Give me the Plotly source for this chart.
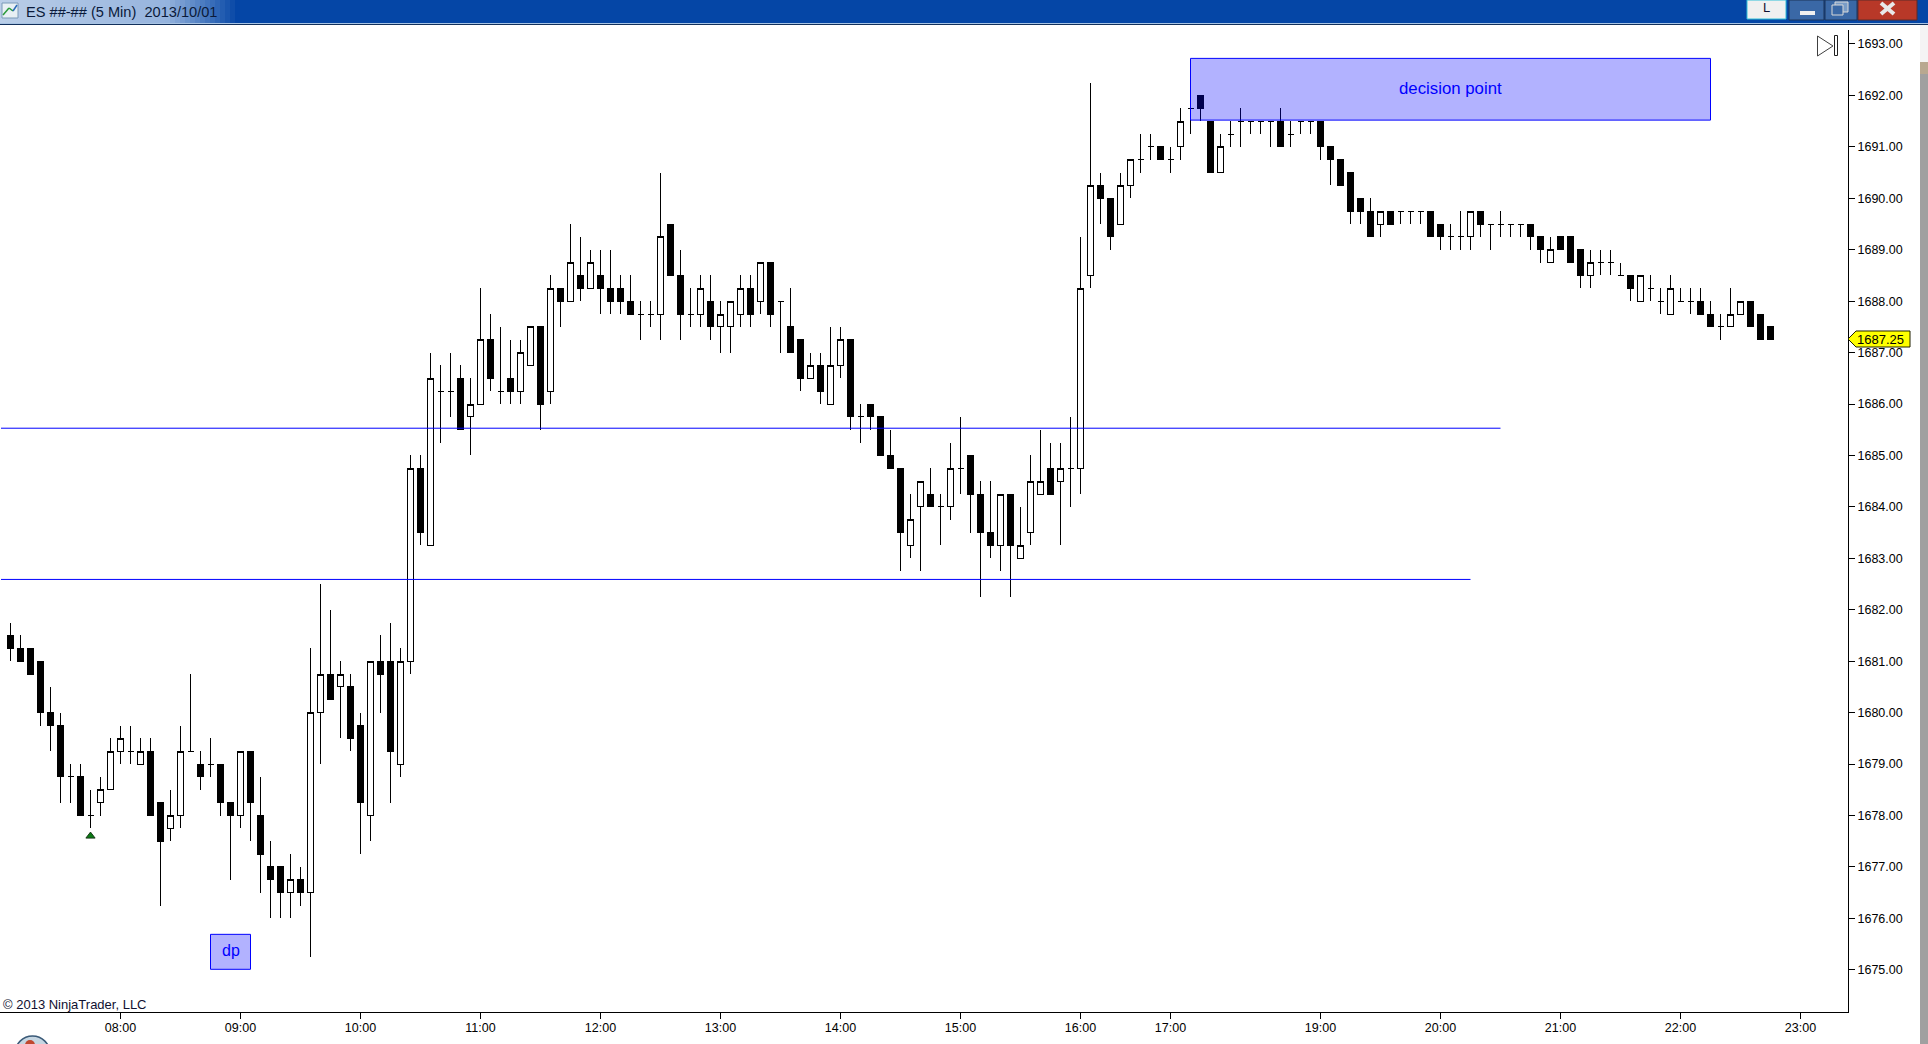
import plotly.graph_objs as go

# ES 5 min bars
opens = [1681.5,1681.25,1681.25,1681,1680,1679.75,1678.75,1678.75,1678,1678.25,
    1678.5,1679.25,1679.25,1679,1679.25,1678.25,1677.75,1678,1679.25,1679,
    1679,1679,1678.25,1678,1679.25,1678,1677,1677,1676.5,1676.75,
    1676.5,1680,1680.75,1680.5,1680.5,1679.75,1678,1681,1681,1679,
    1681,1684.75,1683.25,1686.25,1686.25,1686.5,1685.75,1686,1687.25,1686.25,
    1686.5,1686.25,1686.75,1687.5,1686.25,1688.25,1688,1688.5,1688.25,1688.5,
    1688.25,1688.25,1688,1687.75,1687.75,1687.75,1689.5,1688.5,1687.75,1687.75,
    1688,1687.5,1687.5,1687.75,1688.25,1688,1688.75,1688,1687.5,1687.25,
    1686.5,1686.75,1686,1686.75,1687.25,1685.75,1686,1685.75,1685,1684.75,
    1683.25,1684,1684.25,1684,1684,1684.75,1685,1684.25,1683.5,1683.25,
    1684.25,1683,1683.5,1684.25,1684.75,1684.5,1684.75,1684.75,1688.5,1690.25,
    1690,1689.5,1690.25,1690.75,1691,1691,1690.75,1691,1691.75,1692,
    1691.5,1690.5,1691.25,1691.5,1691.5,1691.5,1691.5,1691.5,1691.25,1691.5,
    1691.5,1691.5,1691,1690.75,1690.5,1690,1689.75,1689.5,1689.75,1689.75,
    1689.75,1689.75,1689.75,1689.5,1689.25,1689.25,1689.25,1689.75,1689.5,1689.5,
    1689.5,1689.5,1689.5,1689.25,1688.75,1689.25,1689.25,1689,1688.5,1688.75,
    1688.75,1688.5,1688.5,1688,1688.25,1688,1687.75,1688,1688,1688,
    1687.75,1687.5,1687.5,1687.75,1688,1687.75,1687.5]

highs = [1681.75,1681.5,1681.25,1681,1680.5,1680,1679,1679,1678.5,1678.75,
    1679.5,1679.75,1679.75,1679.5,1679.5,1678.25,1678.5,1679.75,1680.75,1679.25,
    1679.5,1679,1678.25,1679.25,1679.25,1678.75,1677.5,1677,1677.25,1677,
    1681.25,1682.5,1682,1681,1680.75,1680,1681,1681.5,1681.75,1681.25,
    1685,1685,1687,1686.75,1687,1686.75,1686.5,1688.25,1687.75,1687.5,
    1687.25,1687.25,1687.5,1687.5,1688.5,1688.25,1689.5,1689.25,1689,1689,
    1689,1688.5,1688.5,1688,1688,1690.5,1689.5,1689,1688.25,1688.5,
    1688.5,1688,1688,1688.5,1688.5,1688.75,1688.75,1688,1688.25,1687.25,
    1687,1687,1687.5,1687.5,1687.25,1686,1686,1685.75,1685.5,1684.75,
    1684.25,1684.5,1684.75,1684.25,1685.25,1685.75,1685,1684.5,1684.5,1684.25,
    1684.25,1684,1685,1685.5,1685.25,1685.25,1685.75,1689.25,1692.25,1690.5,
    1690,1690.5,1690.75,1691.25,1691.25,1691,1691,1691.75,1691.75,1692,
    1691.5,1691.25,1691.5,1691.75,1691.5,1691.5,1691.5,1691.75,1691.5,1691.5,
    1691.5,1691.5,1691,1690.75,1690.5,1690,1690,1689.75,1689.75,1689.75,
    1689.75,1689.75,1689.75,1689.5,1689.5,1689.75,1689.75,1689.75,1689.5,1689.75,
    1689.5,1689.5,1689.5,1689.25,1689.25,1689.25,1689.25,1689,1689,1689,
    1689,1688.75,1688.5,1688.5,1688.5,1688.25,1688.5,1688.25,1688.25,1688.25,
    1688,1687.75,1688.25,1688,1688,1687.75,1687.5]

lows = [1681,1681,1680.75,1679.75,1679.25,1678.25,1678.25,1678,1677.75,1678,
    1678.5,1679,1679,1679,1678,1676.25,1677.5,1677.75,1679.25,1678.5,
    1678.75,1678,1676.75,1677.75,1677.5,1676.5,1676,1676,1676,1676.25,
    1675.25,1679,1680.25,1679.5,1679.25,1677.25,1677.5,1680,1678.25,1678.75,
    1680.75,1683.25,1683.25,1685.25,1685.75,1685.5,1685,1686,1686.25,1686,
    1686,1686,1686.75,1685.5,1686,1687.5,1688,1688,1688.25,1687.75,
    1687.75,1687.75,1687.75,1687.25,1687.5,1687.25,1688.5,1687.25,1687.5,1687.5,
    1687.25,1687,1687,1687.5,1687.5,1687.75,1687.5,1687,1687,1686.25,
    1686.5,1686,1686,1686.5,1685.5,1685.25,1685.5,1685,1684.75,1682.75,
    1683,1682.75,1684,1683.25,1683.75,1684.25,1683.5,1682.25,1683,1682.75,
    1682.25,1683,1683.25,1684.25,1684.25,1683.25,1684,1684.25,1688.25,1689.5,
    1689,1689.5,1690,1690.5,1690.75,1690.75,1690.5,1690.75,1691.25,1691.5,
    1690.5,1690.5,1691,1691,1691.25,1691.25,1691,1691,1691,1691.25,
    1691.25,1690.75,1690.25,1690.25,1689.5,1689.5,1689.25,1689.25,1689.5,1689.5,
    1689.5,1689.5,1689.25,1689,1689,1689,1689,1689.25,1689,1689.25,
    1689.25,1689.25,1689,1688.75,1688.75,1689,1688.75,1688.25,1688.25,1688.5,
    1688.5,1688.5,1688,1688,1688,1687.75,1687.75,1688,1687.75,1687.75,
    1687.5,1687.25,1687.5,1687.75,1687.5,1687.25,1687.25]

closes = [1681.25,1681,1680.75,1680,1679.75,1678.75,1678.75,1678,1678,1678.5,
    1679.25,1679.5,1679.25,1679.25,1678,1677.5,1678,1679.25,1679.25,1678.75,
    1679,1678.25,1678,1679.25,1678.25,1677.25,1676.75,1676.5,1676.75,1676.5,
    1680,1680.75,1680.25,1680.75,1679.5,1678.25,1681,1680.75,1679.25,1681,
    1684.75,1683.5,1686.5,1686.25,1686.25,1685.5,1686,1687.25,1686.5,1686.25,
    1686.25,1687,1687.5,1686,1688.25,1688,1688.75,1688.25,1688.75,1688.25,
    1688,1688,1687.75,1687.75,1687.75,1689.25,1688.5,1687.75,1687.75,1688.25,
    1687.5,1687.75,1688,1688.25,1687.75,1688.75,1687.75,1688,1687,1686.5,
    1686.75,1686.25,1686.75,1687.25,1685.75,1685.75,1685.75,1685,1684.75,1683.5,
    1683.75,1684.5,1684,1684,1684.75,1684.75,1684.25,1683.5,1683.25,1684.25,
    1683.25,1683.25,1684.5,1684.5,1684.25,1684.75,1684.75,1688.25,1690.25,1690,
    1689.25,1690.25,1690.75,1690.75,1691,1690.75,1690.75,1691.5,1691.75,1691.75,
    1690.5,1691,1691.25,1691.5,1691.5,1691.5,1691.5,1691,1691.25,1691.5,
    1691.5,1691,1690.75,1690.25,1689.75,1689.75,1689.25,1689.75,1689.5,1689.75,
    1689.75,1689.75,1689.25,1689.25,1689.25,1689.25,1689.75,1689.5,1689.5,1689.5,
    1689.5,1689.5,1689.25,1689,1689,1689,1688.75,1688.5,1688.75,1688.75,
    1688.75,1688.5,1688.25,1688.5,1688.25,1688,1688.25,1688,1688,1687.75,
    1687.5,1687.5,1687.75,1688,1687.5,1687.25,1687.25]

bars = list(range(len(closes)))

# the session gaps make the hours uneven, so ticks go by bar number
tick_bars = [11, 23, 35, 47, 59, 71, 83, 95, 107, 116, 131, 143, 155, 167, 179]
tick_times = ["08:00", "09:00", "10:00", "11:00", "12:00", "13:00", "14:00", "15:00",
              "16:00", "17:00", "19:00", "20:00", "21:00", "22:00", "23:00"]
price_ticks = list(range(1675, 1694))

last_price = 1687.25
level_prices = [1685.53, 1682.59]
level_ends = [149, 146]
arrow_bar = [8]
arrow_price = [1677.6]

W = 1928
H = 1044
LEFT = 0
RIGHT = 1848
TOP = 30
BOTTOM = 1012


# shapes around the chart are placed in page pixels
def px(x):
    return (x - LEFT) / (RIGHT - LEFT)


def py(y):
    return (BOTTOM - y) / (BOTTOM - TOP)


def page_rect(x0, y0, x1, y1, fill, line=None):
    return dict(type="rect", xref="paper", yref="paper", x0=px(x0), x1=px(x1), y0=py(y0), y1=py(y1),
                fillcolor=fill, line=dict(color=line or fill, width=1 if line else 0))


def page_line(x0, y0, x1, y1, color, width=1):
    return dict(type="line", xref="paper", yref="paper", x0=px(x0), x1=px(x1), y0=py(y0), y1=py(y1),
                line=dict(color=color, width=width))


def mix(a, b, t):
    return "rgb(%d,%d,%d)" % tuple(a[i] + (b[i] - a[i]) * t for i in range(3))


candles = go.Candlestick(x=bars, open=opens, high=highs, low=lows, close=closes,
                         increasing=dict(line=dict(color="black", width=1), fillcolor="white"),
                         decreasing=dict(line=dict(color="black", width=1), fillcolor="black"),
                         showlegend=False)

arrow = go.Scatter(x=arrow_bar, y=arrow_price, mode="markers", showlegend=False,
                   marker=dict(symbol="triangle-up", size=8, color="#0a7a14",
                               line=dict(color="#1a3a1a", width=1)))

shapes = []

# horizontal levels
for price, end in zip(level_prices, level_ends):
    shapes.append(dict(type="line", xref="x", yref="y", x0=-0.95, x1=end, y0=price, y1=price,
                       line=dict(color="#0000ff", width=1)))

# decision point and dp boxes
shapes.append(dict(type="rect", xref="x", yref="y", x0=118, x1=170, y0=1691.52, y1=1692.72,
                   fillcolor="rgba(0,0,255,0.3)", line=dict(color="#0000ff", width=1)))
shapes.append(dict(type="rect", xref="x", yref="y", x0=20, x1=24, y0=1675.01, y1=1675.69,
                   fillcolor="rgba(0,0,255,0.3)", line=dict(color="#0000ff", width=1)))

# window title bar
shapes.append(page_rect(0, 0, W, 23, "#0546a6"))
glow_start = (186, 206, 232)
glow_end = (5, 70, 166)
for i in range(48):
    t = i / 47
    if t < 0.7:
        c = mix(glow_start, (150, 180, 222), t / 0.7)
    else:
        c = mix((150, 180, 222), glow_end, (t - 0.7) / 0.3)
    shapes.append(page_rect(i * 5, 0, i * 5 + 5, 23, c))
shapes.append(page_line(0, 23.5, W, 23.5, "#a8c4e4"))
shapes.append(page_line(0, 24.5, W, 24.5, "#12305c"))

# chart icon in the title bar
shapes.append(page_rect(2, 3, 18, 18, "#e8f0f4", "#7a9ab8"))
shapes.append(page_line(3, 15, 9, 8, "#2a9a3a", 1.5))
shapes.append(page_line(9, 8, 13, 11, "#2a9a3a", 1.5))
shapes.append(page_line(13, 11, 17, 5, "#2a6ab8", 1.5))

# window buttons
shapes.append(page_rect(1747, 0, 1786, 19, "#f0f0f0", "#30c0d8"))
shapes.append(page_rect(1789, 0, 1824, 20, "#3a68a6", "#1c3458"))
shapes.append(page_rect(1825, 0, 1857, 20, "#3a68a6", "#1c3458"))
shapes.append(page_rect(1858, 0, 1917, 20, "#b83828", "#5c2a28"))
shapes.append(page_rect(1800, 11, 1815, 15, "#f0f0f0"))
shapes.append(page_rect(1835, 2, 1848, 12, "#7a9cc6", "#d8d8d8"))
shapes.append(page_rect(1832, 5, 1843, 15, "#3a68a6", "#d8d8d8"))
shapes.append(page_line(1881, 3, 1894, 14, "#e8e8e8", 4))
shapes.append(page_line(1894, 3, 1881, 14, "#e8e8e8", 4))

# right edge of the window behind
shapes.append(page_rect(1920, 25, W, 62, "#f4f4f4"))
shapes.append(page_rect(1920, 62, W, 74, "#b8a890"))
shapes.append(page_rect(1920, 74, W, H, "#a0a0a0"))

# scroll-to-end icon
shapes.append(dict(type="path", xref="paper", yref="paper",
                   path="M %f,%f L %f,%f L %f,%f Z" % (px(1817.5), py(36), px(1833), py(46), px(1817.5), py(56)),
                   fillcolor="white", line=dict(color="#404040", width=1)))
shapes.append(page_rect(1834.5, 35.5, 1837.5, 55.5, "white", "#202020"))

# last price flag
shapes.append(dict(type="path", xref="paper", yref="paper",
                   path="M %f,%f L %f,%f L %f,%f L %f,%f L %f,%f Z" % (
                       px(1848), py(339), px(1856), py(331), px(1910), py(331), px(1910), py(347), px(1856), py(347)),
                   fillcolor="#ffff00", line=dict(color="#202000", width=1)))

# start orb at the bottom
shapes.append(dict(type="circle", xref="paper", yref="paper", x0=px(15), x1=px(50), y0=py(1036), y1=py(1071),
                   fillcolor="#c6d6e2", line=dict(color="#3a5a78", width=1.5)))
shapes.append(dict(type="circle", xref="paper", yref="paper", x0=px(25), x1=px(35), y0=py(1040), y1=py(1050),
                   fillcolor="#c04830", line=dict(width=0)))

annotations = [
    dict(text="decision point", x=144, y=1692.12, xref="x", yref="y", showarrow=False, yshift=1,
         font=dict(family="Liberation Sans", size=16.8, color="#0000ff")),
    dict(text="dp", x=22, y=1675.35, xref="x", yref="y", showarrow=False, yshift=1,
         font=dict(family="Liberation Sans", size=16, color="#0000ff")),
    dict(text="© 2013 NinjaTrader, LLC", x=px(1), y=py(1004), xref="paper", yref="paper", showarrow=False,
         xanchor="left", yanchor="middle", font=dict(family="Liberation Sans", size=13, color="#101030")),
    dict(text="ES ##-## (5 Min)  2013/10/01", x=px(24), y=py(12), xref="paper", yref="paper", showarrow=False,
         xanchor="left", yanchor="middle", font=dict(family="Liberation Sans", size=14.6, color="#0a1a3a")),
    dict(text="L", x=px(1766), y=py(8), xref="paper", yref="paper", showarrow=False,
         xanchor="center", yanchor="middle", font=dict(family="Liberation Sans", size=13, color="#101030")),
    dict(text="%.2f" % last_price, x=px(1881), y=py(339), xref="paper", yref="paper", showarrow=False,
         xanchor="center", yanchor="middle", font=dict(family="Liberation Sans", size=13, color="black")),
]

layout = go.Layout(width=W, height=H, margin=dict(l=LEFT, r=W - RIGHT, t=TOP, b=H - BOTTOM, pad=0),
                   paper_bgcolor="white", plot_bgcolor="white", showlegend=False, dragmode=False,
                   boxgap=0.4, boxgroupgap=0,
                   font=dict(family="Liberation Sans", size=12.5, color="black"),
                   xaxis=dict(range=[-1.05, 183.75], tickvals=tick_bars, ticktext=tick_times, showgrid=False,
                              zeroline=False, rangeslider=dict(visible=False), ticks="outside", ticklen=6,
                              tickcolor="black", tickwidth=1, showline=True, linecolor="black", linewidth=1,
                              ticklabelstandoff=-2),
                   yaxis=dict(range=[1674.18, 1693.272], side="right", tickvals=price_ticks, tickformat=".2f",
                              showgrid=False, zeroline=False, ticks="outside", ticklen=6, tickcolor="black",
                              tickwidth=1, showline=True, linecolor="black", linewidth=1),
                   shapes=shapes, annotations=annotations)

fig = go.Figure(data=[candles, arrow], layout=layout)

# page margin off, candles drawn crisp like the original
fix_page = """document.body.style.margin='0';document.body.style.overflow='hidden';
var st=document.createElement('style');st.textContent='.boxlayer path{shape-rendering:crispEdges}';
document.head.appendChild(st);"""
fig.write_html("out.html", config={"displayModeBar": False}, post_script=fix_page)
